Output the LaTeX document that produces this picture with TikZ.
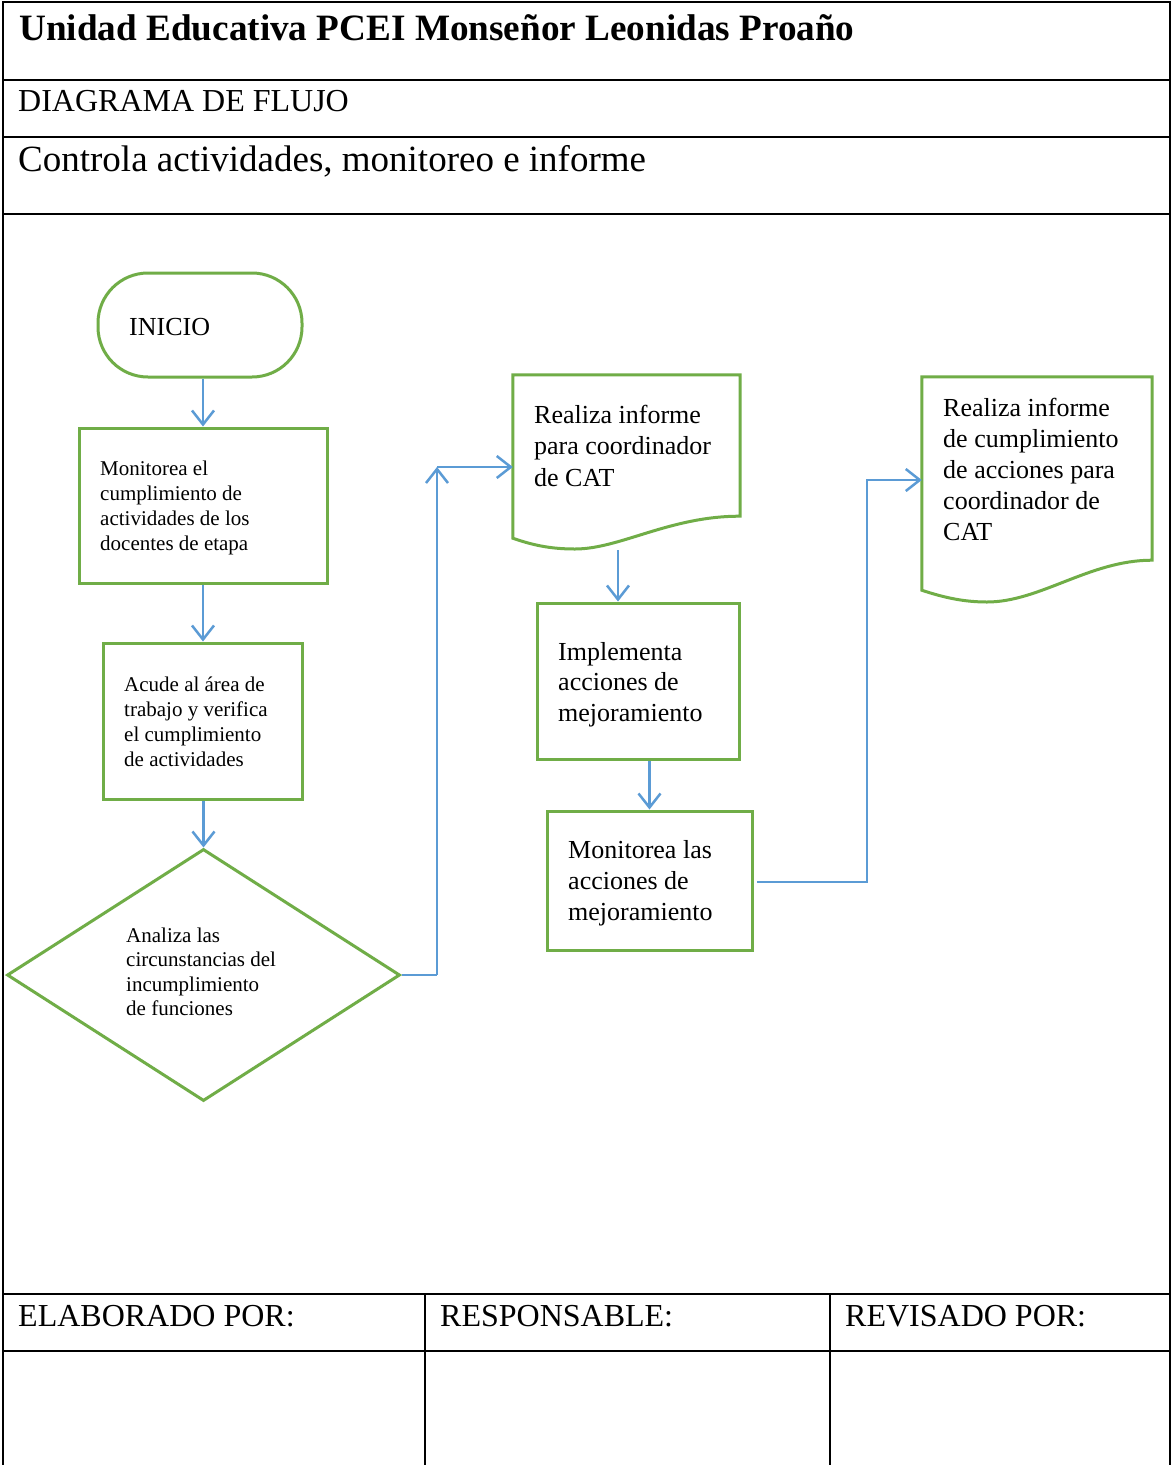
\documentclass[tikz,border=0pt]{standalone}
\usepackage{fontspec}
\setmainfont{Liberation Serif}
\usetikzlibrary{arrows.meta,shapes.geometric}
\definecolor{grn}{HTML}{70AD47}
\definecolor{blu}{HTML}{5B9BD5}
\begin{document}
\begin{tikzpicture}[x=1pt,y=-1pt,
  tline/.style={line width=2pt,black},
  tthin/.style={line width=1.2pt,black},
  shapebox/.style={draw=grn,line width=3pt,rectangle,inner sep=0pt},
  flow/.style={draw=blu,line width=2.5pt,-{Straight Barb[length=14pt,width=22pt,line width=2.5pt]}},
  thinflow/.style={draw=blu,line width=1.3pt,-{Straight Barb[length=14pt,width=22pt,line width=2.5pt]}},
  thinline/.style={draw=blu,line width=1.3pt},
  bigtxt/.style={font=\fontsize{26}{31.5}\selectfont,align=left,anchor=base west,inner sep=0pt},
  smalltxt/.style={font=\fontsize{21}{25}\selectfont,align=left,anchor=base west,inner sep=0pt},
  headtxt/.style={anchor=base west,inner sep=0pt},
]
\useasboundingbox (0,0) rectangle (1171,1465);
\fill[white] (0,0) rectangle (1171,1465);

% ---- table frame ----
\draw[tline] (3,1465) -- (3,2) -- (1170,2) -- (1170,1465);
\foreach \yy in {80,137,214,1294,1351} \draw[tline] (3,\yy) -- (1170,\yy);
\draw[tthin] (425,1294) -- (425,1465);
\draw[tthin] (830,1294) -- (830,1465);

\node[headtxt,font=\fontsize{37.2}{40}\selectfont\bfseries] (title) at (19,40) {Unidad Educativa PCEI Monseñor Leonidas Proaño};
\node[headtxt,font=\fontsize{32}{36}\selectfont] (sub) at (18,111) {DIAGRAMA DE FLUJO};
\node[headtxt,font=\fontsize{37}{40}\selectfont] (proc) at (18,171) {Controla actividades, monitoreo e informe};
\node[headtxt,font=\fontsize{32}{36}\selectfont] (f1) at (18,1326) {ELABORADO POR:};
\node[headtxt,font=\fontsize{32}{36}\selectfont] (f2) at (440,1326) {RESPONSABLE:};
\node[headtxt,font=\fontsize{32}{36}\selectfont] (f3) at (845,1326) {REVISADO POR:};

% ---- shapes ----
\node[draw=grn,line width=3pt,rounded corners=50pt,minimum width=204pt,minimum height=104pt,inner sep=0pt] (ini) at (200,325) {};
\node[bigtxt] (init) at (129,335) {INICIO};

\node[shapebox,minimum width=248pt,minimum height=155pt] (b1) at (203,505.5) {};
\node[smalltxt] (b1t) at (100,550) {Monitorea el\\cumplimiento de\\actividades de los\\docentes de etapa};

\node[shapebox,minimum width=199pt,minimum height=156pt] (b2) at (202.5,721) {};
\node[smalltxt] (b2t) at (124,766) {Acude al área de\\trabajo y verifica\\el cumplimiento\\de actividades};

\node[diamond,draw=grn,line width=3pt,aspect=1.56,minimum width=393pt,minimum height=252pt,inner sep=0pt] (dia) at (203.5,975) {};
\node[smalltxt,font=\fontsize{21}{24.5}\selectfont] (diat) at (126,1015.5) {Analiza las\\circunstancias del\\incumplimiento\\de funciones};

% document 1
\node[minimum width=227pt,minimum height=163pt,inner sep=0pt] (doc1) at (626.5,456.5) {};
\draw[draw=grn,line width=3pt,line join=miter] (doc1.south west) -- (doc1.north west) -- (doc1.north east) -- ([yshift=22pt]doc1.south east)
  .. controls (670,516) and (620,549) .. (575,549)
  .. controls (553,549) and (535,546) .. (doc1.south west) -- cycle;
\node[bigtxt] (doc1t) at (534,486) {Realiza informe\\para coordinador\\de CAT};

\node[shapebox,minimum width=202pt,minimum height=156pt] (b3) at (638,681) {};
\node[bigtxt,font=\fontsize{26}{30.5}\selectfont] (b3t) at (558,721) {Implementa\\acciones de\\mejoramiento};

\node[shapebox,minimum width=205pt,minimum height=139pt] (b4) at (649.5,880.5) {};
\node[bigtxt,font=\fontsize{26}{31}\selectfont] (b4t) at (568,920) {Monitorea las\\acciones de\\mejoramiento};

% document 2
\node[minimum width=230pt,minimum height=213pt,inner sep=0pt] (doc2) at (1037,483.5) {};
\draw[draw=grn,line width=3pt,line join=miter] (doc2.south west) -- (doc2.north west) -- (doc2.north east) -- ([yshift=30pt]doc2.south east)
  .. controls (1090,560) and (1040,602) .. (987,602)
  .. controls (965,602) and (945,598) .. (doc2.south west) -- cycle;
\node[bigtxt,font=\fontsize{26}{31}\selectfont] (doc2t) at (943,540) {Realiza informe\\de cumplimiento\\de acciones para\\coordinador de\\CAT};

% ---- connectors ----
\draw[flow] (b1.north |- ini.south) -- (b1.north);
\draw[flow] (b1.south) -- (b1.south |- b2.north);
\draw[flow] (dia.north |- b2.south) -- (dia.north);

\coordinate (c1) at (437,467);
\coordinate (c0) at (dia.east -| c1);
\draw[thinline] (dia.east) -- (c0);
\draw[flow] (c0) -- (c1);
\draw[flow] (c1) -- (c1 -| doc1.west);

\coordinate (d1b) at (618,550);
\draw[flow] (d1b) -- (d1b |- b3.north);
\draw[flow] (b4.north |- b3.south) -- (b4.north);

\coordinate (c2s) at (757,882);
\coordinate (c2) at (867,480);
\draw[thinflow] (c2s) -| (c2) -- (c2 -| doc2.west);
\end{tikzpicture}
\end{document}
